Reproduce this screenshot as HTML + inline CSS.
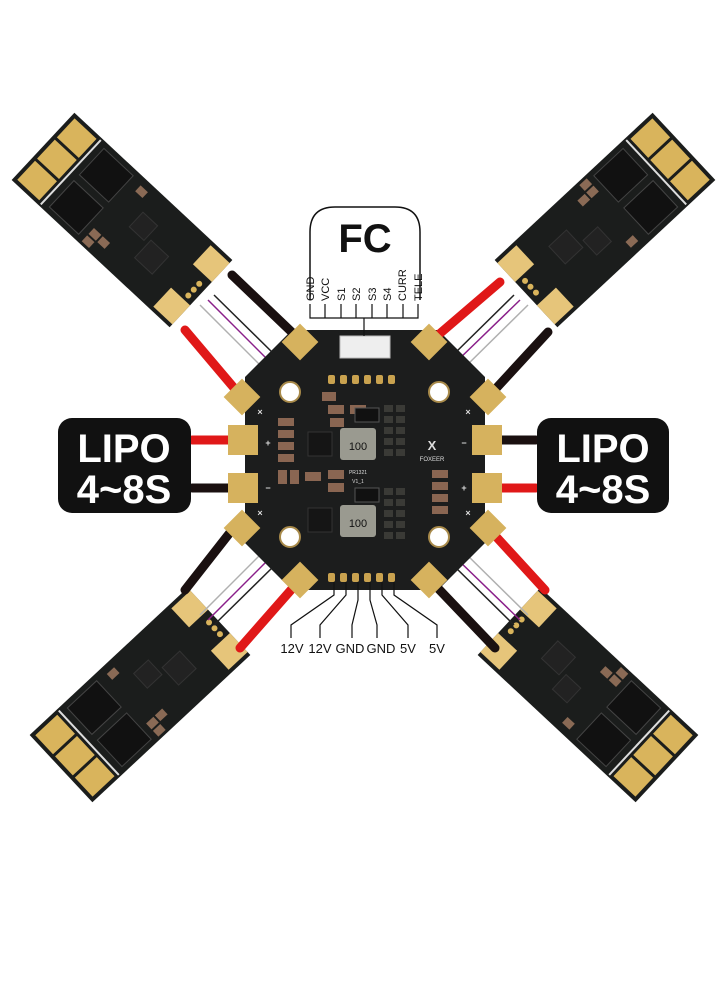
<!DOCTYPE html>
<html><head><meta charset="utf-8"><style>
html,body{margin:0;padding:0;background:#fff;}
svg{display:block;font-family:"Liberation Sans",sans-serif;}
</style></head><body>
<svg width="727" height="1000" viewBox="0 0 727 1000" xmlns="http://www.w3.org/2000/svg">
<defs>
<g id="esc">
  <rect x="-108" y="-46" width="216" height="92" fill="#1b1d1c"/>
  <rect x="-104" y="-42" width="30" height="26" fill="#d9b45c"/>
  <rect x="-104" y="-13" width="30" height="26" fill="#d9b45c"/>
  <rect x="-104" y="16" width="30" height="26" fill="#d9b45c"/>
  <line x1="-70" y1="-44" x2="-70" y2="44" stroke="#ddd" stroke-width="2"/>
  <rect x="-62" y="-40" width="40" height="36" fill="#111" stroke="#444"/>
  <rect x="-62" y="4" width="40" height="36" fill="#111" stroke="#444"/>
  <rect x="10" y="-20" width="20" height="20" fill="#222" stroke="#333"/>
  <rect x="35" y="-5" width="24" height="24" fill="#222" stroke="#333"/>
  <rect x="-15" y="25" width="10" height="8" fill="#8a6a55"/>
  <rect x="-15" y="35" width="10" height="8" fill="#8a6a55"/>
  <rect x="-3" y="25" width="10" height="8" fill="#8a6a55"/>
  <rect x="-10" y="-38" width="10" height="8" fill="#8a6a55"/>
  <path d="M82,-42 h26 v26 h-26 z" fill="#e6c57a"/>
  <path d="M82,16 h26 v26 h-26 z" fill="#e6c57a"/>
  <circle cx="100" cy="-6" r="3" fill="#d9b45c"/>
  <circle cx="100" cy="2" r="3" fill="#d9b45c"/>
  <circle cx="100" cy="10" r="3" fill="#d9b45c"/>
</g>
</defs>

<use href="#esc" transform="translate(122,220) rotate(43)"/>
<use href="#esc" transform="translate(605,220) rotate(137)"/>
<use href="#esc" transform="translate(140,695) rotate(-43)"/>
<use href="#esc" transform="translate(588,695) rotate(-137)"/>

<g fill="none" stroke-width="1.5">
<path d="M200,305 L265,370" stroke="#b0b0b0"/><path d="M208,300 L270,362" stroke="#8a1f8a"/><path d="M214,295 L276,356" stroke="#222"/>
<path d="M528,305 L462,370" stroke="#b0b0b0"/><path d="M520,300 L456,362" stroke="#8a1f8a"/><path d="M514,295 L452,356" stroke="#222"/>
<path d="M200,615 L265,550" stroke="#b0b0b0"/><path d="M208,620 L270,558" stroke="#8a1f8a"/><path d="M214,625 L276,564" stroke="#222"/>
<path d="M528,615 L462,550" stroke="#b0b0b0"/><path d="M520,620 L456,558" stroke="#8a1f8a"/><path d="M514,625 L452,564" stroke="#222"/>
</g>

<polygon points="292,330 438,330 485,377 485,543 438,590 292,590 245,543 245,377" fill="#1c1d1d"/>

<g stroke-linecap="round" stroke-width="9" fill="none">
<line x1="185" y1="330" x2="240" y2="395" stroke="#e01818"/>
<line x1="232" y1="275" x2="300" y2="340" stroke="#1a1010"/>
<line x1="500" y1="282" x2="430" y2="342" stroke="#e01818"/>
<line x1="548" y1="332" x2="490" y2="395" stroke="#1a1010"/>
<line x1="232" y1="530" x2="185" y2="590" stroke="#1a1010"/>
<line x1="298" y1="582" x2="240" y2="648" stroke="#e01818"/>
<line x1="432" y1="582" x2="495" y2="648" stroke="#1a1010"/>
<line x1="490" y1="530" x2="545" y2="590" stroke="#e01818"/>
<line x1="192" y1="440" x2="245" y2="440" stroke="#e01818"/>
<line x1="192" y1="488" x2="245" y2="488" stroke="#1a1010"/>
<line x1="482" y1="440" x2="536" y2="440" stroke="#1a1010"/>
<line x1="482" y1="488" x2="536" y2="488" stroke="#e01818"/>
</g>

<g fill="#d6b25e">
<rect x="-13" y="-13" width="26" height="26" transform="translate(300,342) rotate(45)"/>
<rect x="-13" y="-13" width="26" height="26" transform="translate(242,397) rotate(45)"/>
<rect x="-13" y="-13" width="26" height="26" transform="translate(429,342) rotate(45)"/>
<rect x="-13" y="-13" width="26" height="26" transform="translate(488,397) rotate(45)"/>
<rect x="-13" y="-13" width="26" height="26" transform="translate(242,528) rotate(45)"/>
<rect x="-13" y="-13" width="26" height="26" transform="translate(300,580) rotate(45)"/>
<rect x="-13" y="-13" width="26" height="26" transform="translate(429,580) rotate(45)"/>
<rect x="-13" y="-13" width="26" height="26" transform="translate(488,528) rotate(45)"/>
<rect x="228" y="425" width="30" height="30" />
<rect x="228" y="473" width="30" height="30" />
<rect x="472" y="425" width="30" height="30" />
<rect x="472" y="473" width="30" height="30" />
</g>
<g fill="#fff" stroke="#a88a4a" stroke-width="2">
<circle cx="290" cy="392" r="10"/><circle cx="439" cy="392" r="10"/>
<circle cx="290" cy="537" r="10"/><circle cx="439" cy="537" r="10"/>
</g>
<rect x="340" y="336" width="50" height="22" fill="#eee" stroke="#bbb"/>
<g fill="#c9a24f"><rect x="328" y="375" width="7" height="9" rx="2"/><rect x="340" y="375" width="7" height="9" rx="2"/><rect x="352" y="375" width="7" height="9" rx="2"/><rect x="364" y="375" width="7" height="9" rx="2"/><rect x="376" y="375" width="7" height="9" rx="2"/><rect x="388" y="375" width="7" height="9" rx="2"/>
<rect x="328" y="573" width="7" height="9" rx="2"/><rect x="340" y="573" width="7" height="9" rx="2"/><rect x="352" y="573" width="7" height="9" rx="2"/><rect x="364" y="573" width="7" height="9" rx="2"/><rect x="376" y="573" width="7" height="9" rx="2"/><rect x="388" y="573" width="7" height="9" rx="2"/></g>
<g fill="#8a6652">
<rect x="322" y="392" width="14" height="9"/><rect x="328" y="405" width="16" height="9"/><rect x="350" y="405" width="16" height="9"/><rect x="330" y="418" width="14" height="9"/>
<rect x="278" y="418" width="16" height="8"/><rect x="278" y="430" width="16" height="8"/><rect x="278" y="442" width="16" height="8"/><rect x="278" y="454" width="16" height="8"/>
<rect x="278" y="470" width="9" height="14"/><rect x="290" y="470" width="9" height="14"/><rect x="305" y="472" width="16" height="9"/><rect x="328" y="470" width="16" height="9"/><rect x="328" y="483" width="16" height="9"/>
<rect x="432" y="470" width="16" height="8"/><rect x="432" y="482" width="16" height="8"/><rect x="432" y="494" width="16" height="8"/><rect x="432" y="506" width="16" height="8"/>
</g>
<g fill="#9a9a90">
<rect x="340" y="428" width="36" height="32" rx="3"/><rect x="340" y="505" width="36" height="32" rx="3"/>
</g>
<rect x="355" y="408" width="24" height="14" fill="#111" stroke="#555"/>
<rect x="355" y="488" width="24" height="14" fill="#111" stroke="#555"/>
<rect x="308" y="432" width="24" height="24" fill="#151515" stroke="#333"/>
<rect x="308" y="508" width="24" height="24" fill="#151515" stroke="#333"/>
<g fill="#3a3a36"><rect x="384" y="405" width="9" height="7"/><rect x="396" y="405" width="9" height="7"/><rect x="384" y="416" width="9" height="7"/><rect x="396" y="416" width="9" height="7"/><rect x="384" y="427" width="9" height="7"/><rect x="396" y="427" width="9" height="7"/><rect x="384" y="438" width="9" height="7"/><rect x="396" y="438" width="9" height="7"/><rect x="384" y="449" width="9" height="7"/><rect x="396" y="449" width="9" height="7"/>
<rect x="384" y="488" width="9" height="7"/><rect x="396" y="488" width="9" height="7"/><rect x="384" y="499" width="9" height="7"/><rect x="396" y="499" width="9" height="7"/><rect x="384" y="510" width="9" height="7"/><rect x="396" y="510" width="9" height="7"/><rect x="384" y="521" width="9" height="7"/><rect x="396" y="521" width="9" height="7"/><rect x="384" y="532" width="9" height="7"/><rect x="396" y="532" width="9" height="7"/></g>
<text x="358" y="450" font-size="11" text-anchor="middle" fill="#111">100</text>
<text x="358" y="527" font-size="11" text-anchor="middle" fill="#111">100</text>
<text x="358" y="474" font-size="5" text-anchor="middle" fill="#ddd">PR1321</text>
<text x="358" y="483" font-size="5" text-anchor="middle" fill="#ddd">V1_1</text>
<text x="432" y="450" font-size="13" text-anchor="middle" fill="#ddd" font-weight="bold">X</text>
<text x="432" y="461" font-size="6" text-anchor="middle" fill="#ddd">FOXEER</text>
<g fill="#ddd" font-size="9" font-weight="bold" text-anchor="middle">
<text x="268" y="446">+</text><text x="268" y="491">−</text><text x="464" y="446">−</text><text x="464" y="491">+</text>
<text x="260" y="415">×</text><text x="468" y="415">×</text><text x="260" y="516">×</text><text x="468" y="516">×</text>
</g>

<rect x="58" y="418" width="133" height="95" rx="14" fill="#111"/>
<rect x="537" y="418" width="132" height="95" rx="14" fill="#111"/>
<g fill="#fff" font-weight="bold" font-size="40" text-anchor="middle">
<text x="124" y="462">LIPO</text><text x="124" y="503">4~8S</text>
<text x="603" y="462">LIPO</text><text x="603" y="503">4~8S</text>
</g>

<path d="M310,300 V232 Q310,207 335,207 H395 Q420,207 420,232 V300" fill="none" stroke="#111" stroke-width="1.5"/>
<text x="365" y="252" font-size="40" font-weight="bold" text-anchor="middle" fill="#111">FC</text>
<g font-size="11" fill="#111">
<text transform="translate(314,301) rotate(-90)">GND</text>
<text transform="translate(329,301) rotate(-90)">VCC</text>
<text transform="translate(345,301) rotate(-90)">S1</text>
<text transform="translate(360,301) rotate(-90)">S2</text>
<text transform="translate(376,301) rotate(-90)">S3</text>
<text transform="translate(391,301) rotate(-90)">S4</text>
<text transform="translate(406,301) rotate(-90)">CURR</text>
<text transform="translate(422,301) rotate(-90)">TELE</text>
</g>
<path d="M310,304 V318 H418 V304 M325,304 V318 M341,304 V318 M356,304 V318 M372,304 V318 M387,304 V318 M403,304 V318 M364,318 V336" fill="none" stroke="#111" stroke-width="1.2"/>

<g fill="none" stroke="#111" stroke-width="1.2">
<path d="M334,582 V595 L291,625 V638"/><path d="M346,582 V595 L320,625 V638"/>
<path d="M358,582 V600 L352,625 V638"/><path d="M370,582 V600 L377,625 V638"/>
<path d="M382,582 V595 L408,625 V638"/><path d="M394,582 V595 L437,625 V638"/>
</g>
<g font-size="13" fill="#111" text-anchor="middle">
<text x="292" y="653">12V</text><text x="320" y="653">12V</text><text x="350" y="653">GND</text><text x="381" y="653">GND</text><text x="408" y="653">5V</text><text x="437" y="653">5V</text>
</g>
</svg>
</body></html>
